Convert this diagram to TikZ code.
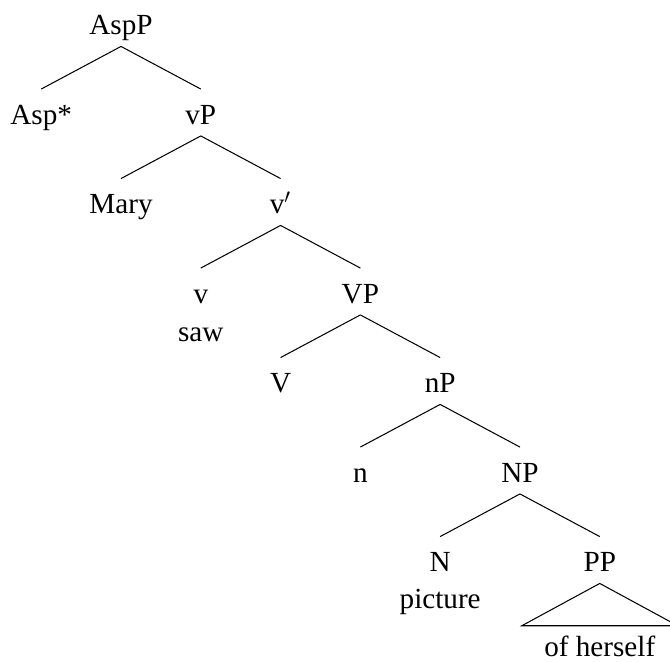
\documentclass[tikz,border=0pt]{standalone}
\usepackage{fontspec}
\setmainfont{Liberation Serif}
\usetikzlibrary{positioning}
\tikzset{
  every node/.style={inner sep=0pt, text height=16.8pt, text depth=5.3pt,
    font=\fontsize{14}{16}\selectfont},
  branch/.style={draw, line width=0.5pt},
}

\begin{document}
\begin{tikzpicture}[x=0.48pt, y=0.48pt, node distance=42.96pt and 38.3pt, on grid]
    \useasboundingbox (0,0) rectangle (670,-662);
    \node (AspP) at (121,-23) {AspP};
    \node (Asp) [below left=of AspP] {Asp*};
    \node (vP) [below right=of AspP] {vP};
    \node (Mary) [below left=of vP] {Mary};
    \node (vbar) [below right=of vP] {v$'$};
    \node (v) [below left=of vbar] {v};
    \node (saw) [below=18.2pt of v] {saw};
    \node (VP) [below right=of vbar] {VP};
    \node (V) [below left=of VP] {V};
    \node (nP) [below right=of VP] {nP};
    \node (n) [below left=of nP] {n};
    \node (NP) [below right=of nP] {NP};
    \node (N) [below left=of NP] {N};
    \node (pic) [below=17.3pt of N] {picture};
    \node (PP) [below right=of NP] {PP};
    \node (herself) [below=40.8pt of PP] {of herself};
    \coordinate (PPl) at ([xshift=-37.4pt, yshift=-2pt]herself.north);
    \coordinate (PPr) at ([xshift=37.4pt, yshift=-2pt]herself.north);
    \path[branch]
      (AspP.south) -- (Asp.north)
      (AspP.south) -- (vP.north)
      (vP.south) -- (Mary.north)
      (vP.south) -- (vbar.north)
      (vbar.south) -- (v.north)
      (vbar.south) -- (VP.north)
      (VP.south) -- (V.north)
      (VP.south) -- (nP.north)
      (nP.south) -- (n.north)
      (nP.south) -- (NP.north)
      (NP.south) -- (N.north)
      (NP.south) -- (PP.north);
    \draw[branch] (PP.south) -- (PPl) -- (PPr) -- cycle;
  \end{tikzpicture}
\end{document}
